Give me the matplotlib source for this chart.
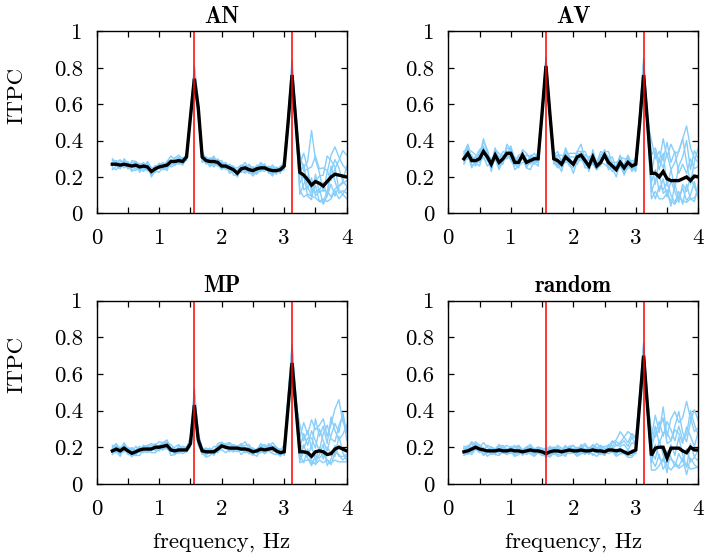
import numpy as np
import matplotlib
matplotlib.use('Agg')
import matplotlib.pyplot as plt

# LaTeX-like fonts (computer modern ships with matplotlib)
plt.rcParams['font.family'] = 'cmr10'
plt.rcParams['axes.formatter.use_mathtext'] = True
plt.rcParams['mathtext.fontset'] = 'cm'

# frequency bins, Hz (1/16 Hz resolution)
freqs = np.arange(4, 65) / 16.0
stim_freqs = [1.5625, 3.125]

conditions = ['AN', 'AV', 'MP', 'random']
x_ticks = [0, 1, 2, 3, 4]
x_tick_labels = ['0', '1', '2', '3', '4']
y_ticks = [0, 0.2, 0.4, 0.6, 0.8, 1]
y_tick_labels = ['0', '0.2', '0.4', '0.6', '0.8', '1']

# group mean ITPC
an_mean = [0.27, 0.27, 0.265, 0.27, 0.265, 0.26, 0.265, 0.255, 0.26, 0.255,
           0.23, 0.245, 0.255, 0.26, 0.265, 0.285, 0.285, 0.29, 0.285, 0.31,
           0.53, 0.74, 0.58, 0.31, 0.29, 0.285, 0.285, 0.28, 0.26, 0.26,
           0.25, 0.24, 0.22, 0.245, 0.25, 0.24, 0.235, 0.245, 0.25, 0.25,
           0.24, 0.235, 0.235, 0.24, 0.26, 0.5, 0.76, 0.5, 0.225, 0.21,
           0.185, 0.155, 0.175, 0.165, 0.15, 0.175, 0.2, 0.215, 0.21, 0.205,
           0.2]
av_mean = [0.30, 0.33, 0.29, 0.29, 0.30, 0.34, 0.31, 0.27, 0.32, 0.28,
           0.30, 0.33, 0.33, 0.28, 0.28, 0.32, 0.28, 0.29, 0.30, 0.30,
           0.55, 0.81, 0.55, 0.30, 0.29, 0.27, 0.31, 0.29, 0.27, 0.31,
           0.32, 0.29, 0.26, 0.31, 0.26, 0.28, 0.32, 0.28, 0.26, 0.24,
           0.28, 0.25, 0.28, 0.26, 0.27, 0.5, 0.76, 0.5, 0.22, 0.22,
           0.20, 0.23, 0.19, 0.18, 0.18, 0.18, 0.19, 0.20, 0.18, 0.205,
           0.2]
mp_mean = [0.18, 0.19, 0.18, 0.195, 0.18, 0.167, 0.175, 0.185, 0.19, 0.19,
           0.19, 0.2, 0.2, 0.205, 0.21, 0.185, 0.18, 0.185, 0.185, 0.185,
           0.22, 0.43, 0.24, 0.18, 0.175, 0.175, 0.175, 0.19, 0.207, 0.2,
           0.195, 0.195, 0.195, 0.19, 0.19, 0.185, 0.175, 0.18, 0.19, 0.185,
           0.19, 0.195, 0.18, 0.17, 0.175, 0.42, 0.66, 0.42, 0.175, 0.175,
           0.17, 0.15, 0.175, 0.18, 0.175, 0.16, 0.165, 0.19, 0.2, 0.19,
           0.18]
rnd_mean = [0.175, 0.18, 0.19, 0.2, 0.19, 0.185, 0.18, 0.18, 0.18, 0.185,
            0.18, 0.18, 0.185, 0.18, 0.18, 0.175, 0.18, 0.185, 0.18, 0.18,
            0.175, 0.165, 0.175, 0.18, 0.18, 0.175, 0.18, 0.185, 0.18, 0.18,
            0.185, 0.18, 0.18, 0.185, 0.18, 0.18, 0.175, 0.185, 0.185, 0.18,
            0.185, 0.175, 0.165, 0.175, 0.185, 0.44, 0.70, 0.42, 0.155, 0.195,
            0.2, 0.2, 0.14, 0.195, 0.195, 0.195, 0.18, 0.17, 0.2, 0.185,
            0.185]

# single subjects, deviation from the group mean (in 1/100 ITPC)
an_subj = [
    [2, 1, 3, 0, -1, 2, 1, -2, 0, 1, -3, -1, 2, 1, 0, -1, 2, 3, 1, -1, 3, 7, 4,
     1, -2, 2, 0, 1, 3, -1, 0, 2, -1, 1, 3, 0, -2, 1, 2, -1, 0, 3, 1, -2, 2, 4, 8, 3,
     8, 4, 10, 30, 12, 6, -3, 5, 12, 15, 10, 6, 4],
    [-2, -3, 0, -1, 2, -2, -3, 0, 1, -2, 0, 2, -1, -2, 1, -3, -2, 0, -1, 1, -3, -4, -5,
     -2, 0, -3, 1, -1, -2, 0, 2, -3, -1, 0, -2, 1, -1, -3, 0, 2, -2, -1, 0, 1, -2, -4, -5, -3,
     -10, -12, -8, -6, -9, -10, -7, -11, -12, -9, -13, -10, -12],
    [0, 2, -2, 3, 1, -1, 0, 2, -2, 0, 1, -1, -3, 0, 2, 1, -2, -1, 2, 0, 2, 5, 2,
     3, 1, 0, -2, 2, 0, 1, -3, -1, 2, 1, 0, 3, 1, -2, -1, 0, 2, 1, -1, 0, 1, 2, 6, 5,
     5, 12, 6, 10, 14, 8, 10, 6, -2, 3, 8, 14, 12],
    [3, 1, -1, 2, -2, 3, 2, 1, -1, 3, 2, 1, 0, -1, 2, 3, 1, -2, 0, 2, 1, 2, 1,
     -1, 2, 1, 3, -1, 1, 2, 0, 1, 3, 2, -1, -2, 2, 0, 3, 1, -1, -2, 2, 0, 3, 1, 3, 2,
     -12, -5, 2, -2, -6, -3, -10, -8, 3, 8, 4, -3, -5],
    [-1, 0, 1, -2, 0, -3, -1, 1, 2, -1, 1, 0, 2, -2, -1, 0, 1, -1, -2, -1, 0, -1, 0,
     0, -1, -2, 1, -1, 2, 0, -2, -1, 1, -2, 1, 2, 0, -1, -2, 0, -1, 0, -2, 1, -1, 0, 1, -1,
     2, -8, -4, -6, -2, -10, -9, -5, -11, -8, -6, -4, -2],
    [1, -1, 2, 1, -2, 0, 1, -3, 0, 2, -1, -2, 1, 2, -2, 0, 1, 2, -1, 1, 2, 3, 1,
     1, 1, -1, -3, 0, 1, -2, 1, 2, 0, -1, -3, 1, 2, 0, -1, -2, 1, 2, 0, -1, 0, 1, 4, 0,
     0, 6, -5, 4, -8, -4, 2, -8, -4, -12, -6, -3, 6],
    [-3, -1, -2, 1, 0, 1, -2, -1, -3, 0, -2, 1, 0, -1, -3, 1, 0, -2, 1, -2, -2, -2, -3,
     -3, 0, 1, -1, -2, -1, 1, -1, 0, -2, 2, 1, -1, -3, -1, 1, 2, -1, -3, 1, -1, -2, -2, -3, -2,
     10, 2, 6, -4, 0, 4, 6, 14, 9, 4, -8, -10, -6],
    [1, 2, 0, -1, 1, 0, 2, 1, -1, -2, 1, -1, 1, 0, -1, -2, -1, 1, 2, 0, -1, 0, -2,
     2, -1, 0, 2, 1, -1, -1, 2, 1, 0, -1, 1, -2, 0, 2, 1, -1, 1, -1, -1, 2, 1, -2, 2, -4,
     -6, 0, -9, -8, 4, -5, -2, -6, 6, -4, -10, -8, -9],
]
av_subj = [
    [4, 2, 5, 3, 1, 7, 2, -2, 3, 5, 1, -1, 4, 2, 0, 3, 5, 1, -2, 4, 3, 5, 2,
     2, 5, 1, -1, 4, 6, 2, 0, 3, 5, 1, -2, 4, 2, 6, 1, -1, 3, 5, 2, 0, 4, 5, 9, 4,
     10, 14, 8, 18, 12, 20, 15, 16, 22, 28, 18, 10, 8],
    [-3, -1, -4, 0, -2, -3, -5, 1, -2, -4, 0, -3, -1, -4, -2, 0, -3, -5, -1, -2, -4, -5, -3,
     -2, -4, 0, -3, -1, -5, -2, 0, -4, -1, -3, -2, 0, -5, -3, -1, -4, 0, -2, -3, -1, -4, -3, -5, -4,
     -14, -10, -12, -15, -8, -11, -13, -9, -12, -14, -10, -12, -8],
    [1, 4, -1, 2, 5, 3, -2, 0, 4, 1, -3, 3, 2, -1, 4, 1, -2, 2, 3, 0, 2, 4, 1,
     4, 1, -2, 5, 2, -1, 3, 6, 0, -2, 4, 1, 3, -1, 2, 5, 0, -3, 2, 4, 1, -1, 3, 7, 2,
     5, -6, 10, 2, 14, 6, -4, 8, 12, 20, 6, 14, 10],
    [-1, -3, 2, -2, 0, -1, 1, -4, 0, -2, 2, -1, -3, 1, -2, -4, 0, 1, -3, -1, -2, -3, -2,
     -1, -3, 2, -2, 0, 1, -4, -1, 2, -3, 0, -1, -2, 1, -4, 0, 2, -1, -3, 0, -2, 1, -2, -4, -3,
     -5, 2, -8, -4, -10, 0, -6, -12, -3, -8, 2, -6, -10],
    [2, 0, 3, -2, 4, 2, 1, 3, -1, 2, 4, 0, -2, 3, 1, 2, -1, 3, 1, -2, 1, 3, 0,
     0, 3, 2, 4, -1, 1, 3, 2, -2, 4, 2, 0, 1, 3, -1, 2, 4, 1, 0, -2, 3, 2, 2, 4, 1,
     18, 8, 14, 6, 20, 10, 16, 4, 8, 2, 12, 4, 6],
    [0, -2, 1, -3, 2, -1, -2, 2, -3, 0, 1, -2, 2, -1, -3, 1, 2, -2, 0, 1, 0, 1, -1,
     -3, 0, -1, 2, -2, 1, -1, -3, 2, 0, -2, 1, -1, 2, -3, 0, 1, -2, -1, 1, -3, 0, 0, 2, 0,
     -10, -4, 2, -12, -6, -14, -2, -10, -5, -13, -8, -3, -12],
    [3, 5, 1, 2, -1, 6, 4, 0, 2, 3, -1, 5, 2, 1, 3, -2, 4, 2, 0, 3, 2, 2, 3,
     1, 3, 5, 0, 2, 4, -1, 2, 5, 3, 0, 2, 6, 1, 3, -1, 2, 4, 0, 3, 1, 2, 4, 6, 3,
     0, 12, 4, 10, -4, 6, 10, 16, 22, 8, -2, 8, 16],
    [-2, 1, -3, -1, -4, 0, -2, -1, 1, -3, -2, 1, -4, -2, 0, -1, -3, 0, -2, -4, -1, -2, 0,
     -1, -2, -4, 0, -3, -2, 0, -1, -3, 1, -4, -2, -1, 0, -2, -3, 1, -1, -4, -2, 0, -3, -1, -3, -2,
     -8, -14, -5, -10, -2, -8, -12, -6, -14, -4, -10, -14, -4],
]
mp_subj = [
    [2, 3, 1, 2, 0, 3, 1, 2, -1, 2, 3, 1, 0, 2, 3, 1, -1, 2, 1, 0, 4, 9, 3,
     1, 2, 0, 3, 1, -1, 2, 3, 1, 0, 2, 4, 1, 2, 0, 3, 2, 1, 3, 2, 1, 4, 6, 10, 5,
     8, 16, 10, 20, 12, 14, 18, 10, 16, 22, 26, 15, 12],
    [-2, -1, -3, 0, -2, -1, -2, -3, 0, -1, -2, -3, -1, -2, 0, -3, -2, -1, -2, -1, -2, -4, -3,
     -1, -3, -2, 0, -1, -2, -3, -1, -2, 0, -3, -1, -2, -1, -3, 0, -2, -1, -3, -2, 0, -1, -3, -5, -4,
     -6, -5, -4, -2, -7, -5, -6, -3, -5, -6, -8, -7, -6],
    [1, -1, 2, 0, 1, 3, 0, -1, 2, 1, 0, 2, -1, 1, 2, 0, 1, -1, 2, 1, 2, 5, 2,
     2, 0, 1, -1, 2, 1, 0, 3, 1, -1, 2, 0, 1, 2, -1, 1, 3, 0, -1, 2, 1, 0, 2, 6, 3,
     2, 10, 4, 14, 6, 0, 10, 16, 8, 4, 12, 18, 6],
    [-1, 0, -2, 1, -1, 0, -2, 1, 0, -1, 1, -2, 0, -1, 1, 0, -2, 0, -1, 1, 0, -1, 1,
     0, -1, 1, -2, 0, -1, 1, 0, -2, 1, -1, 0, -2, 1, 0, -1, 0, 1, -2, 0, -1, 1, 0, -1, 0,
     -4, 4, -2, 6, -5, 2, -4, 4, 0, -4, 6, -2, -5],
    [3, 1, 2, -1, 2, 1, 3, 0, 1, 2, -1, 1, 3, 2, 0, 1, 2, 3, 0, 2, 1, 3, 1,
     -1, 1, 2, 0, 3, 2, 1, -1, 2, 1, 3, 0, 2, 1, -1, 2, 0, 3, 1, 2, -1, 0, 4, 8, 2,
     15, 6, 12, 4, 18, 8, 14, 6, 20, 10, 4, 8, 14],
    [0, -2, 1, -1, 0, -2, 1, -1, -2, 0, 1, -1, -2, 0, -1, 1, 0, -2, 1, -1, -1, -2, -1,
     -2, 1, -1, 0, -2, 0, -1, 1, -1, -2, 0, 1, -1, -2, 1, -1, -2, 0, 1, -1, -2, 0, -1, -2, -1,
     -2, -6, 2, -4, -6, -2, 4, -6, -3, 2, -5, -4, -2],
    [1, 2, 0, 3, 1, 2, 1, 0, 2, 1, 2, 0, 1, 2, 1, 3, 1, 0, 2, 1, 3, 6, 4,
     0, 2, 1, 1, 0, 2, 1, 2, 0, 1, 1, 2, 3, 0, 1, 2, 1, 2, 0, 1, 2, 1, 5, 8, 6,
     4, 2, 8, 10, 2, 12, 6, 2, 10, 14, 8, 20, 10],
    [-1, 1, -1, -2, 0, 1, -1, 0, -1, -2, 0, -1, 1, -1, -2, -1, 0, 1, -1, 0, 1, 2, 0,
     1, -2, 0, 1, -1, -1, 0, -2, 1, -1, 0, -2, 0, 1, -1, -2, 1, -1, 0, -1, 1, -2, 1, 3, 1,
     -5, 0, -3, -5, -2, -4, -1, -3, -6, -2, -4, -6, -3],
]
rnd_subj = [
    [2, 1, 3, 0, 1, 4, 2, 0, 1, 3, 1, -1, 2, 0, 3, 1, 2, 0, 1, 2, 1, 3, 2,
     0, 2, 1, 3, 0, 1, 2, 1, 3, 0, 2, 1, 3, 2, 0, 4, 6, 10, 8, 12, 9, 6, 6, 7, 5,
     10, 18, 8, 22, 12, 16, 20, 14, 18, 28, 16, 10, 12],
    [-2, -1, -3, -1, -2, 0, -3, -1, -2, -3, 0, -2, -1, -3, -2, 0, -1, -2, -3, -1, -2, -1, -3,
     -1, -3, -2, 0, -2, -1, -3, -2, 0, -1, -2, -3, -1, 0, -2, -1, -3, -2, -1, -2, -3, -1, -4, -5, -3,
     -8, -12, -10, -6, -4, -12, -9, -11, -8, -6, -12, -10, -9],
    [1, 3, 0, 2, -1, 1, 0, 2, 1, -1, 2, 0, 1, 3, 0, -1, 2, 1, 0, 2, 0, 2, 1,
     2, -1, 1, 0, 2, 1, -1, 3, 0, 2, 1, 4, 2, 0, 3, 2, 5, 3, 6, 4, 8, 3, 3, 5, 2,
     4, 8, 14, 6, 20, 10, 4, 12, 6, 10, 20, 14, 8],
    [-1, 0, -2, 1, -1, -2, 0, -1, 1, -2, -1, 0, -2, 1, -1, 0, -2, -1, 0, -1, -1, 0, -2,
     0, -2, -1, 1, -1, 0, -2, -1, 1, -2, 0, -1, -2, 1, -1, 0, -2, 1, 0, -1, -2, 0, -1, -2, -1,
     -4, 2, -6, -8, 4, -5, -10, -3, -6, 2, -8, -4, -6],
    [3, 2, 4, 1, 2, 0, 3, 2, 1, 2, 3, 1, 0, 2, 3, 1, 2, 3, 1, 2, 2, 1, 3,
     1, 3, 2, 0, 2, 3, 1, 2, 4, 1, 3, 2, 1, 3, 2, 5, 3, 4, 8, 6, 10, 7, 4, 6, 3,
     14, 6, 10, 16, 8, 4, 12, 20, 10, 6, 14, 22, 16],
    [0, -2, 1, -1, 0, -3, -1, 0, -2, 1, -1, -2, 0, -1, 1, -2, 0, -1, -2, 0, 0, -2, -1,
     -2, 0, -1, -3, 1, -1, 0, -2, -1, 0, -3, 1, -1, -2, 0, -1, 1, -2, 0, -1, 1, -2, -2, -3, -2,
     2, -6, 4, -4, -8, 2, -4, 6, -2, -8, 2, -4, 0],
    [2, 0, 1, 3, 2, 1, -1, 2, 0, 1, 2, 3, 1, -1, 2, 0, 1, 2, 0, 1, 1, 0, 2,
     2, 1, 0, 2, 1, 3, 0, 2, 1, -1, 2, 1, 3, 0, 2, 1, 3, 2, 4, 2, 5, 3, 2, 4, 2,
     6, 12, 2, 8, 14, 4, 10, 8, 4, 14, 6, 2, 10],
    [-1, 1, -2, 0, -1, 1, 0, -2, -1, 0, 1, -1, 0, -2, -1, 1, 0, -2, -1, 0, -2, -1, 0,
     -1, 0, 1, -2, -1, 0, 1, -1, -2, 0, 1, -1, 0, -2, 1, -1, 0, 1, -1, 2, -1, 0, 0, -1, 1,
     -2, -10, -4, -12, -2, -6, -8, -10, -4, -12, -6, -8, -10],
]

means = [an_mean, av_mean, mp_mean, rnd_mean]
subjects = [an_subj, av_subj, mp_subj, rnd_subj]

# axes boxes in figure fraction [left, bottom, width, height]
boxes = [[0.1364, 0.619, 0.3526, 0.325],
         [0.6323, 0.619, 0.3526, 0.325],
         [0.1364, 0.136, 0.3526, 0.327],
         [0.6323, 0.136, 0.3526, 0.327]]

fs = 16.5

fig = plt.figure(figsize=(7.09, 5.6), dpi=100)

for k in range(4):
    ax = fig.add_axes(boxes[k])
    mean = np.array(means[k])
    for s in subjects[k]:
        assert len(s) == len(freqs)
        ax.plot(freqs, mean + np.array(s) / 100.0, color='#87cefa', lw=1.0)
    ax.plot(freqs, mean, color='black', lw=2.4, solid_joinstyle='miter')
    for f0 in stim_freqs:
        ax.axvline(f0, color='red', lw=1.1)

    ax.set_xlim(0, 4)
    ax.set_ylim(0, 1)
    ax.set_xticks(x_ticks)
    ax.set_xticklabels(x_tick_labels)
    ax.set_xticks(np.arange(0.5, 4, 1), minor=True)
    ax.set_yticks(y_ticks)
    ax.set_yticklabels(y_tick_labels)
    ax.tick_params(which='both', direction='in', top=True, right=True,
                   length=4, width=0.9, labelsize=fs)
    ax.tick_params(axis='x', pad=11)
    ax.tick_params(axis='y', pad=10)
    for sp in ax.spines.values():
        sp.set_linewidth(1.0)

    ax.set_title(conditions[k], fontsize=fs, fontfamily='cmb10', pad=6)
    if k % 2 == 0:
        ax.set_ylabel('ITPC', fontsize=fs)
        ax.yaxis.set_label_coords(-0.28, 0.65)
    if k >= 2:
        ax.set_xlabel('frequency, Hz', fontsize=fs)
        ax.xaxis.set_label_coords(0.5, -0.265)

fig.savefig('out.png', dpi=100)
